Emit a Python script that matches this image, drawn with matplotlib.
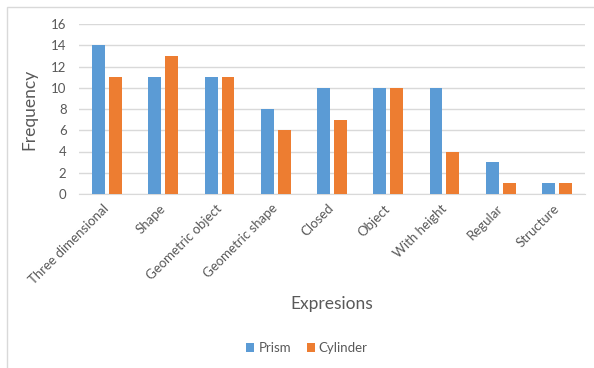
import numpy as np
import matplotlib
matplotlib.use("Agg")
import matplotlib.pyplot as plt
from matplotlib.patches import Rectangle

plt.rcParams['font.family'] = ['Lato', 'DejaVu Sans']

# --- data ---
categories = ["Three dimensional", "Shape", "Geometric object", "Geometric shape",
              "Closed", "Object", "With height", "Regular", "Structure"]
prism = [14, 11, 11, 8, 10, 10, 10, 3, 1]
cylinder = [11, 13, 11, 6, 7, 10, 4, 1, 1]
yticks = [0, 2, 4, 6, 8, 10, 12, 14, 16]

W, H = 594, 368
fig = plt.figure(figsize=(W / 100, H / 100), dpi=100)

# chart-area border (Excel style)
fig.patches.append(Rectangle((7 / W, -0.05), 1.2, 1.05 - 7 / H, transform=fig.transFigure,
                             fill=False, edgecolor='#d9d9d9', linewidth=1.0))

ax = fig.add_axes([79 / W, (H - 194) / H, 506 / W, 170 / H])

txt = '#595959'
x = np.arange(len(categories))
bw = 0.23
ax.bar(x - 0.15, prism, width=bw, color='#5B9BD5', label='Prism', zorder=3)
ax.bar(x + 0.15, cylinder, width=bw, color='#ED7D31', label='Cylinder', zorder=3)

ax.set_xlim(-0.5, len(categories) - 0.5)
ax.set_ylim(0, 16)
ax.set_yticks(yticks)
ax.yaxis.grid(True, color='#d9d9d9', linewidth=1.0, zorder=0)
for s in ['top', 'right', 'left']:
    ax.spines[s].set_visible(False)
ax.spines['bottom'].set_color('#d9d9d9')
ax.tick_params(axis='both', length=0, colors=txt, labelsize=9.5)
ax.tick_params(axis='y', pad=9)

ax.set_xticks(x)
ax.set_xticklabels(categories, rotation=45, ha='right', rotation_mode='anchor', va='center')
ax.tick_params(axis='x', pad=9)

ax.set_ylabel('Frequency', color=txt, fontsize=12.5)
ax.yaxis.set_label_coords((37 - 79) / 506, 0.5)
fig.text(332 / W, 1 - 304 / H, 'Expresions', color=txt, fontsize=12.5, ha='center', va='center')

leg = fig.legend(loc='center', bbox_to_anchor=(307 / W, 1 - 348 / H), ncol=2, frameon=False,
                 fontsize=9.5, handlelength=0.6, handleheight=0.6, handletextpad=0.3,
                 columnspacing=1.2)
for t in leg.get_texts():
    t.set_color(txt)

fig.savefig('out.png', dpi=100)
